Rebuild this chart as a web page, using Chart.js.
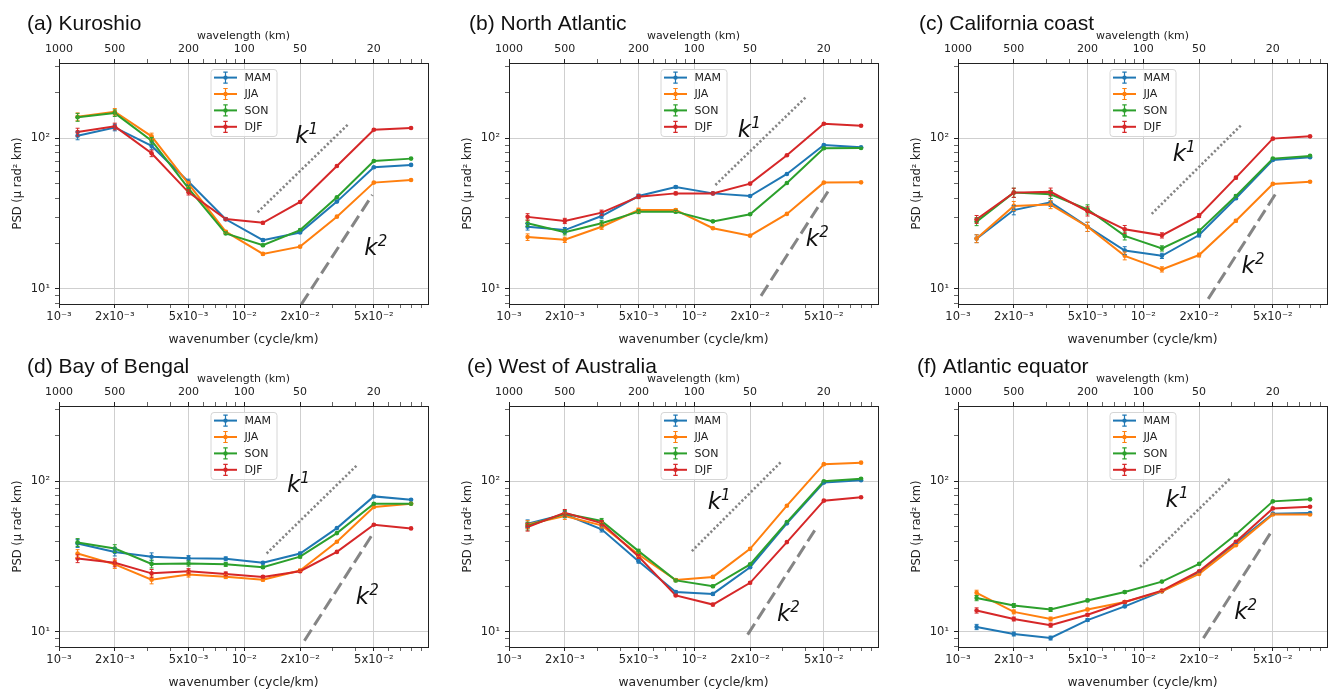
<!DOCTYPE html>
<html>
<head>
<meta charset="utf-8">
<script src="https://cdn.jsdelivr.net/npm/chart.js@4.4.1/dist/chart.umd.min.js"></script>
<style>
  body { margin: 0; background: #fff; width: 1330px; height: 694px; overflow: hidden; position: relative; }
  canvas { position: absolute; }
</style>
</head>
<body>
<canvas id="pa" width="432" height="350" style="left:0px;top:0px"></canvas>
<canvas id="pb" width="432" height="350" style="left:450px;top:0px"></canvas>
<canvas id="pc" width="432" height="350" style="left:899px;top:0px"></canvas>
<canvas id="pd" width="432" height="350" style="left:0px;top:343px"></canvas>
<canvas id="pe" width="432" height="350" style="left:450px;top:343px"></canvas>
<canvas id="pf" width="432" height="350" style="left:899px;top:343px"></canvas>
<script>
// wavenumber (cycle/km) of the spectral bins
const wavenumber = [0.00126, 0.002, 0.00316, 0.005, 0.00794, 0.0126, 0.02, 0.0316, 0.05, 0.0794];
const seasons = ['MAM', 'JJA', 'SON', 'DJF'];
const seasonColors = ['#1f77b4', '#ff7f0e', '#2ca02c', '#d62728'];

// (a) Kuroshio
const kuroshioMAM = [104, 118, 89, 51.5, 29.0, 21.1, 23.7, 38.0, 64.2, 66.6];
const kuroshioJJA = [139, 150, 103, 49.8, 24.0, 17.1, 19.1, 30.2, 50.8, 52.9];
const kuroshioSON = [138, 147, 96.5, 46.6, 23.4, 19.5, 24.6, 40.6, 70.7, 73.3];
const kuroshioDJF = [110, 120, 79.5, 43.8, 29.1, 27.5, 37.8, 65.5, 114, 117];
// (b) North Atlantic
const atlanticMAM = [25.9, 24.6, 30.5, 41.4, 47.5, 43.1, 41.4, 58.0, 90.3, 87.2];
const atlanticJJA = [22.1, 21.2, 25.9, 33.4, 33.4, 25.3, 22.6, 31.5, 50.8, 51.0];
const atlanticSON = [27.3, 23.8, 27.3, 32.6, 32.6, 28.1, 31.3, 50.5, 85.8, 86.2];
const atlanticDJF = [30.1, 28.3, 32.1, 41.0, 43.1, 43.1, 50.0, 77.1, 125, 121];
// (c) California coast
const californiaMAM = [21.6, 33.4, 37.6, 25.9, 18.0, 16.6, 22.8, 40.0, 71.8, 74.8];
const californiaJJA = [21.6, 35.6, 36.3, 25.9, 16.6, 13.5, 16.8, 28.4, 49.8, 51.5];
const californiaSON = [28.0, 43.6, 42.5, 33.8, 22.5, 18.6, 24.3, 41.4, 73.3, 76.4];
const californiaDJF = [29.0, 43.6, 44.1, 32.8, 24.9, 22.7, 30.7, 54.8, 99.5, 103];
// (d) Bay of Bengal
const bengalMAM = [38.7, 34.0, 31.6, 30.9, 30.6, 28.8, 33.2, 48.9, 79.4, 75.5];
const bengalJJA = [33.2, 28.1, 22.2, 24.1, 23.3, 22.2, 25.6, 39.7, 67.5, 71.0];
const bengalSON = [39.3, 35.8, 28.3, 28.5, 28.1, 26.9, 31.6, 45.3, 71.0, 71.0];
const bengalDJF = [30.7, 28.8, 24.5, 25.3, 24.3, 23.2, 25.3, 34.0, 51.5, 48.7];
// (e) West of Australia
const australiaMAM = [52.3, 60.3, 48.0, 29.5, 18.4, 17.9, 26.9, 52.6, 98.0, 101.6];
const australiaJJA = [51.7, 58.8, 51.0, 32.7, 22.1, 23.2, 35.6, 68.9, 130, 133];
const australiaSON = [50.5, 61.0, 54.5, 34.4, 22.0, 20.1, 28.1, 53.6, 100, 104];
const australiaDJF = [49.7, 61.9, 52.8, 31.7, 17.5, 15.2, 21.2, 39.5, 74.4, 78.3];
// (f) Atlantic equator
const equatorMAM = [10.8, 9.7, 9.12, 12.0, 14.8, 18.6, 24.9, 38.9, 61.0, 61.6];
const equatorJJA = [18.2, 13.6, 12.2, 14.1, 15.8, 18.6, 24.3, 37.7, 60.3, 60.3];
const equatorSON = [16.8, 15.0, 14.1, 16.2, 18.4, 21.6, 28.3, 44.4, 73.6, 75.9];
const equatorDJF = [13.9, 12.2, 11.1, 13.0, 15.8, 18.8, 25.3, 39.7, 66.1, 67.8];

// error bar half-widths, as a fraction of the value, per wavenumber bin
const errKuroshio = [0.06, 0.05, 0.05, 0.04, 0.02, 0.02, 0.015, 0.01, 0.01, 0.01];
const errAtlantic = [0.05, 0.04, 0.04, 0.03, 0.02, 0.015, 0.01, 0.01, 0.01, 0.01];
const errCalifornia = [0.06, 0.07, 0.06, 0.07, 0.06, 0.04, 0.03, 0.02, 0.01, 0.01];
const errBengal = [0.06, 0.06, 0.06, 0.04, 0.03, 0.02, 0.02, 0.01, 0.01, 0.01];
const errAustralia = [0.06, 0.05, 0.04, 0.03, 0.02, 0.02, 0.015, 0.01, 0.01, 0.01];
const errEquator = [0.04, 0.03, 0.03, 0.02, 0.02, 0.015, 0.01, 0.01, 0.01, 0.01];

// reference slopes: [[x start, x end], [y start, y end]]
const k1Kuroshio = [[0.0118, 0.0365], [32.3, 124.5]];
const k2Kuroshio = [[0.0203, 0.0491], [7.9, 42.1]];
const k1Atlantic = [[0.0130, 0.0399], [49, 187]];
const k2Atlantic = [[0.0229, 0.0533], [9.0, 45.4]];
const k1California = [[0.0111, 0.0338], [31.5, 122.6]];
const k2California = [[0.0224, 0.0527], [8.6, 44.3]];
const k1Bengal = [[0.0132, 0.0407], [33.2, 128.4]];
const k2Bengal = [[0.0211, 0.0491], [8.75, 44.4]];
const k1Australia = [[0.0097, 0.0295], [34.4, 135.2]];
const k2Australia = [[0.0194, 0.0456], [9.6, 49.2]];
const k1Equator = [[0.0096, 0.0295], [27.1, 104.7]];
const k2Equator = [[0.0211, 0.0497], [9.1, 47.4]];

// where the k^1 / k^2 labels sit (data coords)
const kLabelKuroshio = [[0.0217, 105], [0.0512, 19.1]];
const kLabelAtlantic = [[0.0198, 116], [0.0461, 21.7]];
const kLabelCalifornia = [[0.0166, 79.5], [0.0391, 14.4]];
const kLabelBengal = [[0.0196, 95.5], [0.0461, 17.3]];
const kLabelAustralia = [[0.0136, 74.0], [0.0322, 13.4]];
const kLabelEquator = [[0.0152, 75.9], [0.0357, 13.7]];

// ticks
const xMajorTicks = [0.001, 0.002, 0.005, 0.01, 0.02, 0.05];
const xMajorLabels = ['10⁻³', '2x10⁻³', '5x10⁻³', '10⁻²', '2x10⁻²', '5x10⁻²'];
const wavelengthLabels = ['1000', '500', '200', '100', '50', '20'];
const xMinorTicks = [0.003, 0.004, 0.006, 0.007, 0.008, 0.009, 0.03, 0.04, 0.06, 0.07, 0.08, 0.09];
const yMajorTicks = [10, 100];
const yMajorLabels = ['10¹', '10²'];
const yMinorTicks = [8, 9, 20, 30, 40, 50, 60, 70, 80, 90, 200, 300];

const panels = [
  {id: 'pa', title: '(a) Kuroshio', titleX: 27, series: [kuroshioMAM, kuroshioJJA, kuroshioSON, kuroshioDJF], err: errKuroshio, k1: k1Kuroshio, k2: k2Kuroshio, labels: kLabelKuroshio},
  {id: 'pb', title: '(b) North Atlantic', titleX: 19, series: [atlanticMAM, atlanticJJA, atlanticSON, atlanticDJF], err: errAtlantic, k1: k1Atlantic, k2: k2Atlantic, labels: kLabelAtlantic},
  {id: 'pc', title: '(c) California coast', titleX: 20, series: [californiaMAM, californiaJJA, californiaSON, californiaDJF], err: errCalifornia, k1: k1California, k2: k2California, labels: kLabelCalifornia},
  {id: 'pd', title: '(d) Bay of Bengal', titleX: 27, series: [bengalMAM, bengalJJA, bengalSON, bengalDJF], err: errBengal, k1: k1Bengal, k2: k2Bengal, labels: kLabelBengal},
  {id: 'pe', title: '(e) West of Australia', titleX: 17, series: [australiaMAM, australiaJJA, australiaSON, australiaDJF], err: errAustralia, k1: k1Australia, k2: k2Australia, labels: kLabelAustralia},
  {id: 'pf', title: '(f) Atlantic equator', titleX: 18, series: [equatorMAM, equatorJJA, equatorSON, equatorDJF], err: errEquator, k1: k1Equator, k2: k2Equator, labels: kLabelEquator}
];

const FONT = '"DejaVu Sans", sans-serif';
const INK = '#222';
const GRID = '#cfcfcf';
Chart.defaults.font.family = FONT;
Chart.defaults.color = INK;

const xTicksAll = [...xMajorTicks, ...xMinorTicks].sort((a, b) => a - b);
const yTicksAll = [...yMinorTicks, ...yMajorTicks].sort((a, b) => a - b);

// error bars on the season lines
const errorBars = {
  id: 'errorBars',
  afterDatasetsDraw(chart, args, opts) {
    const ctx = chart.ctx;
    const xs = chart.scales.x, ys = chart.scales.y;
    ctx.save();
    ctx.lineWidth = 1;
    chart.data.datasets.forEach(ds => {
      if (ds.seasonIndex === undefined) return;
      ctx.strokeStyle = ds.borderColor;
      ds.data.forEach((pt, j) => {
        const e = opts.err[j];
        const px = xs.getPixelForValue(pt.x);
        const y1 = ys.getPixelForValue(pt.y * (1 - e));
        const y2 = ys.getPixelForValue(pt.y * (1 + e));
        ctx.beginPath();
        ctx.moveTo(px, y1); ctx.lineTo(px, y2);
        ctx.moveTo(px - 2, y1); ctx.lineTo(px + 2, y1);
        ctx.moveTo(px - 2, y2); ctx.lineTo(px + 2, y2);
        ctx.stroke();
      });
    });
    ctx.restore();
  }
};

// titles, legend, slope labels, right spine
const decorations = {
  id: 'decorations',
  afterDraw(chart, args, opts) {
    const ctx = chart.ctx;
    const {left, right, top, bottom} = chart.chartArea;
    const xs = chart.scales.x, ys = chart.scales.y;
    ctx.save();

    // right spine
    ctx.strokeStyle = INK;
    ctx.lineWidth = 1;
    ctx.beginPath();
    ctx.moveTo(right + 0.5, top);
    ctx.lineTo(right + 0.5, bottom);
    ctx.stroke();

    // panel title
    ctx.fillStyle = '#111';
    ctx.font = '21px "Liberation Sans", Arial, sans-serif';
    ctx.textAlign = 'left';
    ctx.textBaseline = 'alphabetic';
    ctx.fillText(opts.title, opts.titleX, 30);

    // k^1, k^2 labels
    ['1', '2'].forEach((sup, i) => {
      const cx = xs.getPixelForValue(opts.labels[i][0]);
      const cy = ys.getPixelForValue(opts.labels[i][1]);
      ctx.font = 'italic 23px ' + FONT;
      const wk = ctx.measureText('k').width;
      ctx.font = 'italic 15px ' + FONT;
      const ws = ctx.measureText(sup).width;
      const x0 = cx - (wk + ws) / 2;
      ctx.fillStyle = '#111';
      ctx.font = 'italic 23px ' + FONT;
      ctx.fillText('k', x0, cy + 8);
      ctx.font = 'italic 15px ' + FONT;
      ctx.fillText(sup, x0 + wk, cy - 1);
    });

    // legend
    const bw = 66, bh = 67;
    const bx = (left + right) / 2 - bw / 2, by = top + 6;
    ctx.fillStyle = 'rgba(255,255,255,0.85)';
    ctx.strokeStyle = '#d6d6d6';
    ctx.lineWidth = 1;
    ctx.beginPath();
    ctx.roundRect(bx + 0.5, by + 0.5, bw, bh, 3);
    ctx.fill();
    ctx.stroke();
    ctx.font = '11px ' + FONT;
    ctx.textBaseline = 'middle';
    seasons.forEach((s, i) => {
      const y = by + 8.6 + i * 16.4;
      const hx = bx + 15;
      ctx.strokeStyle = seasonColors[i];
      ctx.fillStyle = seasonColors[i];
      ctx.lineWidth = 2;
      ctx.beginPath();
      ctx.moveTo(bx + 3.5, y);
      ctx.lineTo(bx + 26.5, y);
      ctx.stroke();
      ctx.lineWidth = 1.2;
      ctx.beginPath();
      ctx.moveTo(hx, y - 5.5); ctx.lineTo(hx, y + 5.5);
      ctx.moveTo(hx - 2.2, y - 5.5); ctx.lineTo(hx + 2.2, y - 5.5);
      ctx.moveTo(hx - 2.2, y + 5.5); ctx.lineTo(hx + 2.2, y + 5.5);
      ctx.stroke();
      ctx.beginPath();
      ctx.arc(hx, y, 2.2, 0, Math.PI * 2);
      ctx.fill();
      ctx.fillStyle = INK;
      ctx.fillText(s, bx + 34, y + 0.5);
    });
    ctx.restore();
  }
};

function slopeLine(pts, dash, width) {
  return {
    data: pts[0].map((x, i) => ({x, y: pts[1][i]})),
    borderColor: '#858585',
    borderWidth: width,
    borderDash: dash,
    borderCapStyle: 'butt',
    pointRadius: 0,
    clip: 0,
    order: 10
  };
}

function makeChart(p) {
  const seriesSets = p.series.map((vals, i) => ({
    label: seasons[i],
    seasonIndex: i,
    data: wavenumber.map((x, j) => ({x, y: vals[j]})),
    borderColor: seasonColors[i],
    backgroundColor: seasonColors[i],
    borderWidth: 2,
    pointRadius: 2.3,
    pointBorderWidth: 0,
    pointBackgroundColor: seasonColors[i],
    order: 3 - i
  }));

  new Chart(document.getElementById(p.id), {
    type: 'line',
    data: {
      datasets: [slopeLine(p.k1, [2.2, 2.2], 2.6), slopeLine(p.k2, [13, 5.5], 3), ...seriesSets]
    },
    options: {
      responsive: false,
      animation: false,
      layout: {padding: {left: 0, right: 3, top: 0, bottom: 0}},
      plugins: {
        legend: {display: false},
        tooltip: {enabled: false},
        errorBars: {err: p.err},
        decorations: {title: p.title, titleX: p.titleX, labels: p.labels}
      },
      scales: {
        x: {
          type: 'logarithmic',
          position: 'bottom',
          min: 0.001, max: 0.098,
          afterBuildTicks: s => { s.ticks = xTicksAll.map(v => ({value: v})); },
          afterFit: s => { s.height = 46; },
          ticks: {
            autoSkip: false, maxRotation: 0, padding: 2,
            font: {size: 11.5}, color: INK,
            callback: v => { const i = xMajorTicks.indexOf(v); return i >= 0 ? xMajorLabels[i] : ''; }
          },
          grid: {
            color: c => xMajorTicks.includes(c.tick.value) ? GRID : 'rgba(0,0,0,0)',
            lineWidth: 1,
            tickLength: 4,
            tickColor: INK,
            tickWidth: c => xMajorTicks.includes(c.tick.value) ? 1 : 0.7
          },
          border: {display: true, color: INK, width: 1},
          title: {display: true, text: 'wavenumber (cycle/km)', font: {size: 12.4}, color: INK, padding: {top: 0, bottom: 2.5}}
        },
        x2: {
          type: 'logarithmic',
          position: 'top',
          min: 0.001, max: 0.098,
          afterBuildTicks: s => { s.ticks = xTicksAll.map(v => ({value: v})); },
          afterFit: s => { s.height = 63; },
          ticks: {
            autoSkip: false, maxRotation: 0, padding: 3,
            font: {size: 11}, color: INK,
            callback: v => { const i = xMajorTicks.indexOf(v); return i >= 0 ? wavelengthLabels[i] : ''; }
          },
          grid: {
            drawOnChartArea: false,
            tickLength: 4,
            tickColor: INK,
            tickWidth: c => xMajorTicks.includes(c.tick.value) ? 1 : 0.7
          },
          border: {display: true, color: INK, width: 1},
          title: {display: true, text: 'wavelength (km)', font: {size: 11}, color: INK, padding: {top: 30, bottom: 0}}
        },
        y: {
          type: 'logarithmic',
          position: 'left',
          min: 7.95, max: 316,
          afterBuildTicks: s => { s.ticks = yTicksAll.map(v => ({value: v})); },
          afterFit: s => { s.width = 59; },
          ticks: {
            autoSkip: false, padding: 5,
            font: {size: 11.5}, color: INK,
            callback: v => { const i = yMajorTicks.indexOf(v); return i >= 0 ? yMajorLabels[i] : ''; }
          },
          grid: {
            color: c => yMajorTicks.includes(c.tick.value) ? GRID : 'rgba(0,0,0,0)',
            lineWidth: 1,
            tickLength: 4,
            tickColor: INK,
            tickWidth: c => yMajorTicks.includes(c.tick.value) ? 1 : 0.7
          },
          border: {display: true, color: INK, width: 1},
          title: {display: true, text: 'PSD (μ rad² km)', font: {size: 11.5}, color: INK, padding: {top: 11, bottom: 0}}
        }
      }
    },
    plugins: [errorBars, decorations]
  });
}

panels.forEach(makeChart);
</script>
</body>
</html>
